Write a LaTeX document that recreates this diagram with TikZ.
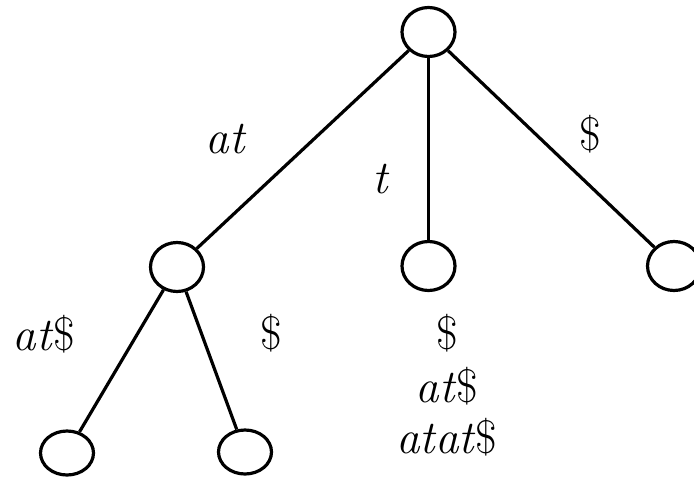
\documentclass[tikz,border=0pt]{standalone}
\usepackage{fontspec}
\usetikzlibrary{shapes.geometric}
\begin{document}
\begin{tikzpicture}[x=1pt,y=-1pt,
  vert/.style={draw,ellipse,line width=3.2pt,inner sep=0pt,minimum width=53pt,minimum height=49pt},
  edge/.style={line width=3.2pt},
  lbl/.style={inner sep=0pt,anchor=base,font=\fontsize{47}{50}\selectfont}]
\clip (0,0) rectangle (694,482);
\useasboundingbox (0,0) rectangle (694,482);
\node[vert] (r) at (428.5,32) {};
\node[vert] (l) at (177,267) {};
\node[vert] (m) at (428.5,266) {};
\node[vert] (rr) at (674,266) {};
\node[vert,minimum height=44pt] (ll) at (67,453) {};
\node[vert,minimum height=44pt] (lr) at (245,452) {};
\draw[edge] (r) -- (l);
\draw[edge] (r) -- (m);
\draw[edge] (r) -- (rr);
\draw[edge] (l) -- (ll);
\draw[edge] (l) -- (lr);
\node[lbl] (tat) at (226,153) {\textit{at}};
\node[lbl] (tt) at (381,193) {\textit{t}};
\node[lbl] (td) at (590,150) {\$};
\node[lbl] (tlat) at (44,350) {\textit{at}\$};
\node[lbl] (tld) at (271,349) {\$};
\node[lbl] (m1) at (447,349) {\$};
\node[lbl] (m2) at (447,402) {\textit{at}\$};
\node[lbl] (m3) at (447,453) {\textit{atat}\$};
\end{tikzpicture}
\end{document}
